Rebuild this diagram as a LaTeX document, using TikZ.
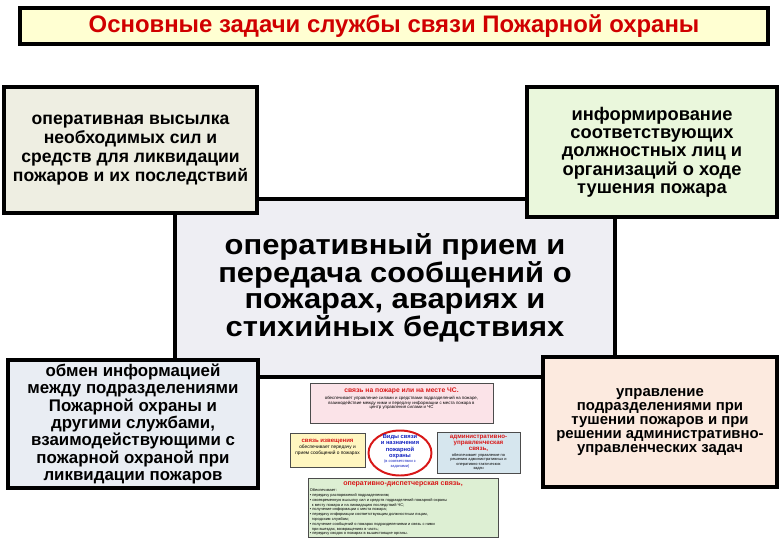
\documentclass[tikz,border=0pt]{standalone}
\usepackage{fontspec}
\setmainfont{Liberation Sans}
\usepackage{xcolor}
\usetikzlibrary{positioning,shapes.geometric,shadows}
\definecolor{titlebg}{HTML}{FFFFD2}
\definecolor{titlered}{HTML}{D00000}
\definecolor{cbeige}{HTML}{EEEEE2}
\definecolor{cgreen}{HTML}{EAF7DC}
\definecolor{cgray}{HTML}{EEEEF3}
\definecolor{cblue}{HTML}{E9EDF3}
\definecolor{cpeach}{HTML}{FCEADF}
\definecolor{mpink}{HTML}{FBE3E8}
\definecolor{myellow}{HTML}{FFF6C0}
\definecolor{mblue}{HTML}{D6E6EE}
\definecolor{mgreen}{HTML}{DDEFD3}
\definecolor{mred}{HTML}{D81818}
\definecolor{mnavy}{HTML}{1020C0}

\begin{document}
\begin{tikzpicture}[
  task/.style={draw=black, line width=2.2pt, align=center, font=\bfseries, inner sep=2pt},
  mini/.style={draw=black!70, line width=0.4pt, inner sep=0pt, drop shadow={shadow xshift=0.7pt, shadow yshift=-0.7pt, opacity=0.5}},
  mhead/.style={font=\fontsize{4.8}{4.6}\selectfont\bfseries, text=mred, align=center, inner sep=0.3pt},
  mtext/.style={font=\fontsize{3.1}{3.5}\selectfont, align=center, inner sep=0.3pt}
]
  \useasboundingbox (0,0) rectangle (19.5,-13.5);

  % Заголовок
  \node[task, fill=titlebg, minimum width=18.7cm, minimum height=0.9cm,
        font=\fontsize{17}{18}\selectfont\bfseries, text=titlered] (title) at (9.85,-0.65)
        {Основные задачи службы связи Пожарной охраны};

  % Центральная задача
  \node[task, fill=cgray, minimum width=11cm, minimum height=4.45cm,
        font=\fontsize{20}{18.5}\selectfont\bfseries\addfontfeatures{FakeStretch=1.1}] (reception) at (9.875,-7.2)
        {оперативный прием и\\передача сообщений о\\пожарах, авариях и\\стихийных бедствиях};

  % Угловые задачи
  \node[task, fill=cbeige, minimum width=6.325cm, minimum height=3.15cm,
        font=\fontsize{12.5}{13.6}\selectfont\bfseries] (dispatch) at (3.2625,-3.75)
        {оперативная высылка\\необходимых сил и\\средств для ликвидации\\пожаров и их последствий};
  \node[task, fill=cgreen, minimum width=6.25cm, minimum height=3.25cm,
        font=\fontsize{13}{13}\selectfont\bfseries] (inform) at (16.3,-3.8)
        {информирование\\соответствующих\\должностных лиц и\\организаций о ходе\\тушения пожара};
  \node[task, fill=cblue, minimum width=6.25cm, minimum height=3.2cm,
        font=\fontsize{12}{12.4}\selectfont\bfseries] (exchange) at (3.325,-10.6)
        {обмен информацией\\между подразделениями\\Пожарной охраны и\\другими службами,\\взаимодействующими с\\пожарной охраной при\\ликвидации пожаров};
  \node[task, fill=cpeach, minimum width=5.85cm, minimum height=3.25cm,
        font=\fontsize{10.6}{9.8}\selectfont\bfseries] (control) at (16.5,-10.55)
        {управление\\подразделениями при\\тушении пожаров и при\\решении административно-\\управленческих задач};

  % Схема видов связи
  \node[mini, fill=mpink, minimum width=4.575cm, minimum height=1cm] (fireline) at (10.0375,-10.075) {};
  \node[mhead, below=3pt of fireline.north] (firehead) {связь на пожаре или на месте ЧС.};
  \node[mtext, below=0.5pt of firehead] (firetext)
        {обеспечивает управление силами и средствами подразделений на пожаре,\\
         взаимодействие между ними и передачу информации с места пожара в\\
         центр управления силами и ЧС};

  \node[mini, fill=myellow, minimum width=1.875cm, minimum height=0.85cm] (alarm) at (8.1875,-11.25) {};
  \node[mhead, font=\fontsize{4.3}{4.6}\selectfont\bfseries, below=4pt of alarm.north] (alarmhead) {связь извещения};
  \node[mtext, font=\fontsize{3.4}{3.9}\selectfont, below=0.3pt of alarmhead] (alarmtext) {обеспечивает передачу и\\прием сообщений о пожарах};

  \node[ellipse, draw=mred, line width=1.4pt, fill=white, minimum width=1.575cm, minimum height=1.125cm,
        inner sep=0pt] (kinds) at (10,-11.325) {};
  \node[mhead, text=mnavy, font=\fontsize{4.1}{4.4}\selectfont\bfseries, below=3.2pt of kinds.north] (kindshead)
        {Виды связи\\и назначения\\пожарной\\охраны};
  \node[mtext, text=mnavy, font=\fontsize{2.8}{3.1}\selectfont, below=0pt of kindshead] (kindstext) {(в соответствии с\\задачами)};

  \node[mini, fill=mblue, minimum width=2.075cm, minimum height=1.025cm] (admin) at (11.9625,-11.3125) {};
  \node[mhead, font=\fontsize{4.4}{4.4}\selectfont\bfseries, below=1.8pt of admin.north] (adminhead) {административно-\\управленческая\\связь,};
  \node[mtext, font=\fontsize{2.8}{3.1}\selectfont, below=0.3pt of adminhead] (admintext)
        {обеспечивает управление по\\решению административных и\\оперативно-тактических\\задач};

  \node[mini, fill=mgreen, minimum width=4.75cm, minimum height=1.475cm] (displine) at (10.075,-12.6875) {};
  \node[mhead, font=\fontsize{5}{5}\selectfont\bfseries, below=2pt of displine.north] (dispheadmini) {оперативно-диспетчерская связь,};
  \node[mtext, font=\fontsize{2.8}{3.4}\selectfont, align=left, below right=7.5pt and 1pt of displine.north west] (disptext)
        {Обеспечивает:\\
         • передачу распоряжений подразделениям;\\
         • своевременную высылку сил и средств подразделений пожарной охраны\\
         \hspace*{1.5pt}к месту пожара и на ликвидацию последствий ЧС;\\
         • получение информации с места пожара;\\
         • передачу информации соответствующим должностным лицам,\\
         \hspace*{1.5pt}городским службам;\\
         • получение сообщений о пожарах подразделениями и связь с ними\\
         \hspace*{1.5pt}при выездах, возвращениях в часть;\\
         • передачу сводок о пожарах в вышестоящие органы.};

\end{tikzpicture}
\end{document}
